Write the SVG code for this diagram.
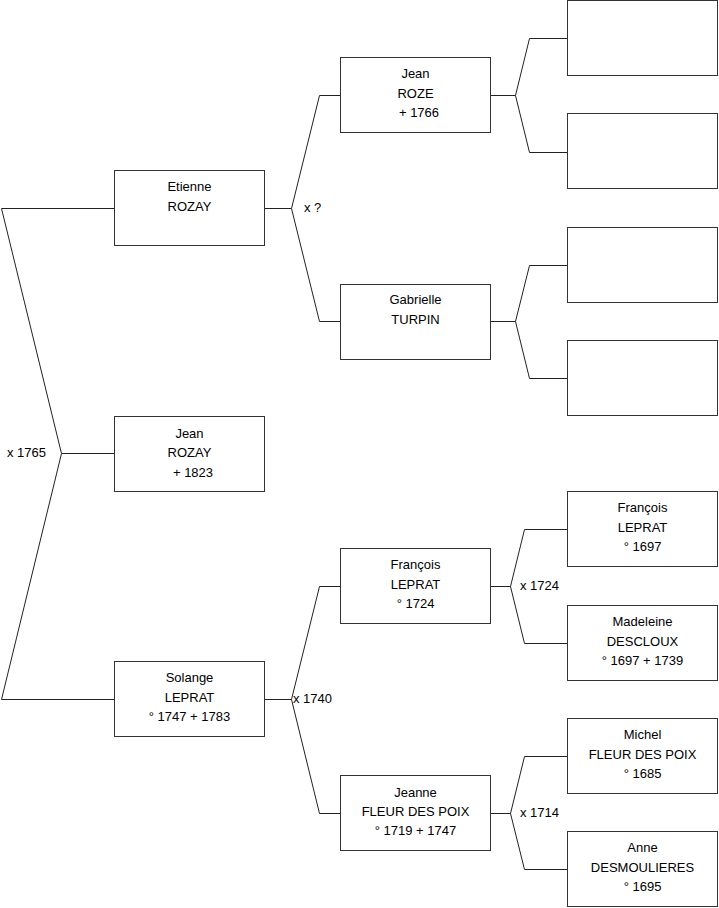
<svg xmlns="http://www.w3.org/2000/svg" width="719" height="908" viewBox="0 0 719 908">
<style>
.box{fill:#fff;stroke:#333;stroke-width:1}
.ln{fill:none;stroke:#222;stroke-width:1}
text{font-family:"Liberation Sans",Arial,sans-serif;font-size:13px;fill:#000}
.c{text-anchor:middle}
</style>
<rect width="719" height="908" fill="#fff"/>
<g id="connectors">
<path class="ln" d="M114,208.5H1.5L61.5,453.5L1.5,699.5H114M61.5,453.5H114"/>
<path class="ln" d="M265,208.5H291.5L319.5,95.5H340M291.5,208.5L319.5,321.5H340"/>
<path class="ln" d="M491,95.5H515.5L529.5,38.5H567M515.5,95.5L529.5,152.5H567"/>
<path class="ln" d="M491,321.5H515.5L529.5,265.5H567M515.5,321.5L529.5,378.5H567"/>
<path class="ln" d="M265,699.5H291.5L319.5,586.5H340M291.5,699.5L319.5,813.5H340"/>
<path class="ln" d="M491,586.5H510.5L524.5,529.5H567M510.5,586.5L524.5,643.5H567"/>
<path class="ln" d="M491,813.5H510.5L524.5,756.5H567M510.5,813.5L524.5,869.5H567"/>
<text x="7" y="457">x 1765</text>
<text x="304" y="212">x ?</text>
<text x="293" y="703">x 1740</text>
<text x="520" y="590">x 1724</text>
<text x="520" y="817">x 1714</text>
</g>
<g id="etienne"><rect class="box" x="114.5" y="170.5" width="150" height="75"/><text class="c" x="189.5" y="191">Etienne</text><text class="c" x="189.5" y="211">ROZAY</text></g>
<g id="jean-rozay"><rect class="box" x="114.5" y="416.5" width="150" height="75"/><text class="c" x="189.5" y="438">Jean</text><text class="c" x="189.5" y="457">ROZAY</text><text class="c" x="193" y="477">+ 1823</text></g>
<g id="solange"><rect class="box" x="114.5" y="661.5" width="150" height="75"/><text class="c" x="189.5" y="682">Solange</text><text class="c" x="189.5" y="702">LEPRAT</text><text class="c" x="189.5" y="721">° 1747 + 1783</text></g>
<g id="jean-roze"><rect class="box" x="340.5" y="57.5" width="150" height="75"/><text class="c" x="415.5" y="78">Jean</text><text class="c" x="415.5" y="98">ROZE</text><text class="c" x="419" y="117">+ 1766</text></g>
<g id="gabrielle"><rect class="box" x="340.5" y="284.5" width="150" height="75"/><text class="c" x="415.5" y="304">Gabrielle</text><text class="c" x="415.5" y="324">TURPIN</text></g>
<g id="francois-1724"><rect class="box" x="340.5" y="548.5" width="150" height="75"/><text class="c" x="415.5" y="569">François</text><text class="c" x="415.5" y="589">LEPRAT</text><text class="c" x="415.5" y="608">° 1724</text></g>
<g id="jeanne"><rect class="box" x="340.5" y="775.5" width="150" height="75"/><text class="c" x="415.5" y="797">Jeanne</text><text class="c" x="415.5" y="816">FLEUR DES POIX</text><text class="c" x="415.5" y="835">° 1719 + 1747</text></g>
<g id="empty1"><rect class="box" x="567.5" y="0.5" width="150" height="75"/></g>
<g id="empty2"><rect class="box" x="567.5" y="113.5" width="150" height="75"/></g>
<g id="empty3"><rect class="box" x="567.5" y="227.5" width="150" height="75"/></g>
<g id="empty4"><rect class="box" x="567.5" y="340.5" width="150" height="75"/></g>
<g id="francois-1697"><rect class="box" x="567.5" y="491.5" width="150" height="75"/><text class="c" x="642.5" y="512">François</text><text class="c" x="642.5" y="532">LEPRAT</text><text class="c" x="642.5" y="551">° 1697</text></g>
<g id="madeleine"><rect class="box" x="567.5" y="605.5" width="150" height="75"/><text class="c" x="642.5" y="626">Madeleine</text><text class="c" x="642.5" y="646">DESCLOUX</text><text class="c" x="642.5" y="665">° 1697 + 1739</text></g>
<g id="michel"><rect class="box" x="567.5" y="718.5" width="150" height="75"/><text class="c" x="642.5" y="739">Michel</text><text class="c" x="642.5" y="759">FLEUR DES POIX</text><text class="c" x="642.5" y="778">° 1685</text></g>
<g id="anne"><rect class="box" x="567.5" y="831.5" width="150" height="75"/><text class="c" x="642.5" y="852">Anne</text><text class="c" x="642.5" y="872">DESMOULIERES</text><text class="c" x="642.5" y="891">° 1695</text></g>
</svg>
